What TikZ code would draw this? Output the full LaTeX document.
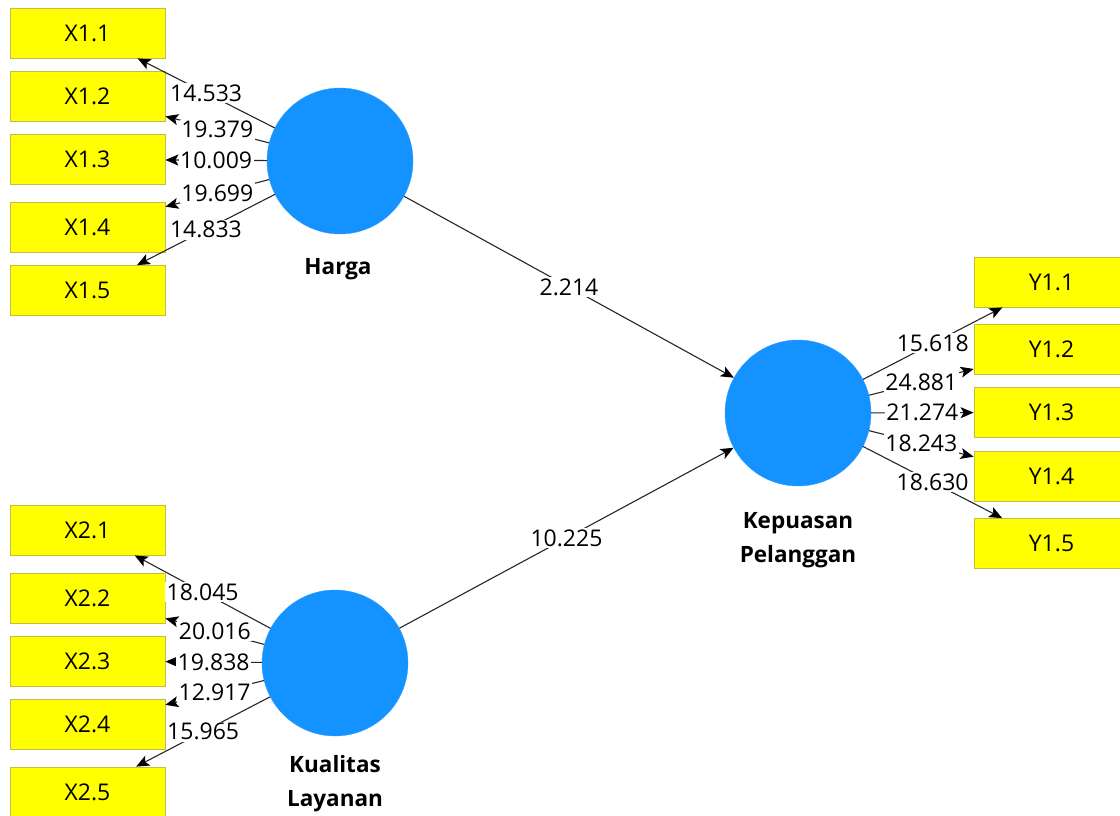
\documentclass[tikz,border=0pt]{standalone}
\usepackage{fontspec}
\setmainfont{Open Sans}
\usepackage{xcolor}
\usetikzlibrary{arrows.meta,positioning}
\definecolor{lvblue}{RGB}{20,146,255}
\definecolor{indfill}{RGB}{255,255,0}
\definecolor{indline}{RGB}{196,186,70}
\tikzstyle{lv}=[circle, fill=lvblue, draw=lvblue!85!white, inner sep=0pt,
minimum size=146pt]
\tikzstyle{ind}=[rectangle, fill=indfill, draw=indline, line width=0.8pt,
inner sep=0pt, minimum width=155pt, minimum height=50pt,
font=\fontsize{23}{27}\selectfont]
\tikzstyle{lvname}=[align=center, font=\fontsize{22.5}{34}\selectfont\bfseries]
\tikzstyle{val}=[fill=white, inner xsep=1.5pt, inner ysep=1.5pt,
font=\fontsize{23}{27}\selectfont]
\tikzstyle{pth}=[draw=black!85, line width=1.1pt,
-{Stealth[length=13pt,width=11pt,inset=3pt,color=black]}]

\begin{document}
\begin{tikzpicture}[x=1pt,y=-1pt]
\useasboundingbox (0,0) rectangle (1120,816);
\clip (0,0) rectangle (1120,816);
% latent variables
\node[lv] (harga) at (340,161) {};
\node[lv] (kual) at (335,663) {};
\node[lv] (kep) at (798,413) {};
\node[lvname] (nharga) at (338,269) {Harga};
\node[lvname] (nkual) at (335,784) {Kualitas\\Layanan};
\node[lvname] (nkep) at (798,540) {Kepuasan\\Pelanggan};
% indicators
\node[ind] (x11) at (87.5,33) {X1.1};
\node[ind] (x12) at (87.5,96.5) {X1.2};
\node[ind] (x13) at (87.5,159.5) {X1.3};
\node[ind] (x14) at (87.5,227) {X1.4};
\node[ind] (x15) at (87.5,290.5) {X1.5};
\node[ind] (x21) at (87.5,530) {X2.1};
\node[ind] (x22) at (87.5,598) {X2.2};
\node[ind] (x23) at (87.5,661) {X2.3};
\node[ind] (x24) at (87.5,724) {X2.4};
\node[ind] (x25) at (87.5,792) {X2.5};
\node[ind] (y11) at (1051.5,282) {Y1.1};
\node[ind] (y12) at (1051.5,349.5) {Y1.2};
\node[ind] (y13) at (1051.5,412.5) {Y1.3};
\node[ind] (y14) at (1051.5,476) {Y1.4};
\node[ind] (y15) at (1051.5,543.5) {Y1.5};
% paths, midpoints kept for the values
\draw[pth] (harga) -- coordinate[pos=.5](m1) (x11);
\draw[pth] (harga) -- coordinate[pos=.5](m2) (x12);
\draw[pth] (harga) -- coordinate[pos=.5](m3) (x13);
\draw[pth] (harga) -- coordinate[pos=.5](m4) (x14);
\draw[pth] (harga) -- coordinate[pos=.5](m5) (x15);
\draw[pth] (kual) -- coordinate[pos=.5](k1) (x21);
\draw[pth] (kual) -- coordinate[pos=.5](k2) (x22);
\draw[pth] (kual) -- coordinate[pos=.5](k3) (x23);
\draw[pth] (kual) -- coordinate[pos=.5](k4) (x24);
\draw[pth] (kual) -- coordinate[pos=.5](k5) (x25);
\draw[pth] (kep) -- coordinate[pos=.5](p1) (y11);
\draw[pth] (kep) -- coordinate[pos=.5](p2) (y12);
\draw[pth] (kep) -- coordinate[pos=.5](p3) (y13);
\draw[pth] (kep) -- coordinate[pos=.5](p4) (y14);
\draw[pth] (kep) -- coordinate[pos=.5](p5) (y15);
\draw[pth] (harga) -- coordinate[pos=.5](s1) (kep);
\draw[pth] (kual) -- coordinate[pos=.5](s2) (kep);
% t values
\node[val] (v1) at (m1) {14.533};
\node[val] (v2) at (m2) {19.379};
\node[val] (v3) at (m3) {10.009};
\node[val] (v4) at (m4) {19.699};
\node[val] (v5) at (m5) {14.833};
\node[val] (w1) at (k1) {18.045};
\node[val] (w2) at (k2) {20.016};
\node[val] (w3) at (k3) {19.838};
\node[val] (w4) at (k4) {12.917};
\node[val] (w5) at (k5) {15.965};
\node[val] (u1) at (p1) {15.618};
\node[val] (u2) at (p2) {24.881};
\node[val] (u3) at (p3) {21.274};
\node[val] (u4) at (p4) {18.243};
\node[val] (u5) at (p5) {18.630};
\node[val] (b1) at (s1) {2.214};
\node[val] (b2) at (s2) {10.225};
\end{tikzpicture}
\end{document}
